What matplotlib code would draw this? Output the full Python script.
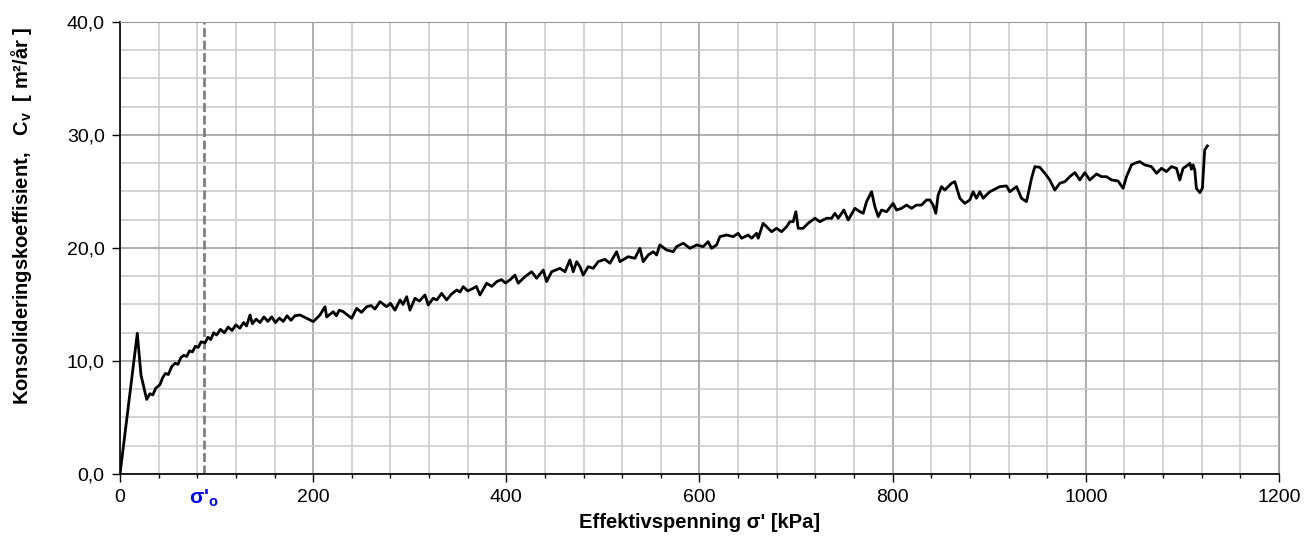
import numpy as np
import matplotlib.pyplot as plt
from matplotlib.ticker import MultipleLocator, FuncFormatter
from matplotlib import transforms

plt.rcParams['font.family'] = ['Liberation Sans', 'DejaVu Sans']
plt.rcParams['mathtext.default'] = 'regular'

SIGMA_0 = 87  # kPa, in-situ effective stress

# effective stress [kPa]
SIGMA = [
    0, 17.9, 21.7, 22.5, 27.6, 31, 34, 37, 41.4, 44, 47, 50, 53.5, 57, 60, 63, 66, 69, 72, 75,
    78, 81, 84, 88, 91, 94, 97, 100, 104, 108, 112, 116, 120, 124, 128, 131, 134.6, 137, 141,
    145, 149, 153, 157, 161, 165, 169, 173, 177, 181,
    186.3, 193.3, 200.1, 207, 212.2, 214, 220.8, 224, 227, 231.2, 235, 239.9, 245, 250, 255.4,
    260, 264, 269.2, 276.1, 280, 284.7, 289.9, 293, 296.8, 300.2, 305.4, 310, 315.7, 319.2,
    324.3, 328, 333, 338.2, 343, 348.6, 352, 355.4, 360, 365.7, 369, 372.7, 379.6, 385, 390,
    395, 399,
    403.7, 408.9, 412.3, 419.3, 426.2, 431.4, 438.2, 441.7, 446.9, 455.5, 460.7, 465.8, 469.3,
    472.8, 476.2, 479.6, 484.8, 490, 495.1, 502.1, 507.2, 514.2, 517.6, 526.2, 533.1, 538.3,
    541.7, 546.9, 552.1, 555.6, 559, 565.9, 572.8, 576.3, 583.2, 590.1, 597.1, 603.8, 609,
    612.5, 617.7,
    621.1, 628, 634.9, 640, 643.6, 650.4, 653.9, 659.1, 660.8, 665.9, 669.5, 674.6, 679.8, 685,
    690.2, 693.6, 697, 699.8, 702.2, 707.3, 712.5, 719.5, 724.6, 731.6, 736.8, 740.2, 743.6,
    749.5, 754, 760.9, 766.1, 769.5, 773, 778.2, 781.6, 785.1, 788.5, 793.7, 800.5, 804, 809.2,
    814.4, 819.5, 824.7, 829.9, 835.1,
    838.5, 841.9, 844.7, 847.1, 850.6, 854, 857.5, 861, 864.4, 869.6, 874.7, 879.9, 883.3,
    886.8, 890.3, 893.7, 900.6, 911, 917.9, 921.3, 928.3, 933.4, 938.6, 943.8, 947.2, 952.4,
    957.6, 962.7, 967.9, 973.1, 978.3, 983.4, 988.6, 993.8, 999, 1004.1, 1011.1, 1016.3,
    1021.4, 1026.6, 1033.4, 1038.6, 1042.1, 1047.3, 1050.7, 1055.9, 1061.1, 1068, 1073.2,
    1078.4, 1083.5, 1088.7, 1093.9, 1097.3, 1100.7, 1105.9, 1107.7, 1109.4, 1111.1, 1112.8,
    1114.5, 1118, 1120.7, 1123.1, 1125.9,
]

# consolidation coefficient [m2/year]
CV = [
    0, 12.45, 8.76, 8.47, 6.6, 7.1, 7.0, 7.6, 7.9, 8.5, 8.9, 8.8, 9.5, 9.8, 9.7, 10.3, 10.5,
    10.4, 10.9, 10.8, 11.3, 11.2, 11.7, 11.6, 12.1, 11.9, 12.5, 12.3, 12.8, 12.5, 13.0, 12.7,
    13.2, 12.9, 13.4, 13.1, 14.07, 13.3, 13.7, 13.4, 13.9, 13.5, 13.9, 13.4, 13.8, 13.5, 14.0,
    13.6, 14.0,
    14.07, 13.78, 13.48, 14.07, 14.8, 13.9, 14.36, 14.0, 14.5, 14.36, 14.1, 13.78, 14.66, 14.3,
    14.8, 14.9, 14.6, 15.25, 14.8, 15.1, 14.5, 15.4, 15.0, 15.69, 14.5, 15.55, 15.3, 15.84,
    14.96, 15.55, 15.4, 15.99, 15.4, 15.9, 16.28, 16.1, 16.58, 16.2, 16.43, 16.6, 15.84, 16.88,
    16.6, 17.02, 17.2, 16.9,
    17.17, 17.6, 16.88, 17.46, 17.9, 17.32, 18.05, 17.02, 17.9, 18.2, 17.9, 18.94, 17.9,
    18.79, 18.35, 17.6, 18.35, 18.2, 18.79, 19.0, 18.65, 19.67, 18.79, 19.23, 19.09, 19.97,
    18.79, 19.38, 19.67, 19.38, 20.27, 19.82, 19.67, 20.12, 20.42, 19.97, 20.27, 20.12, 20.56,
    19.97, 20.27,
    21.0, 21.15, 21.0, 21.3, 20.86, 21.15, 20.86, 21.3, 20.86, 22.19, 21.88, 21.44, 21.74, 21.44,
    21.88, 22.33, 22.33, 23.21, 21.74, 21.74, 22.19, 22.63, 22.33, 22.63, 22.63, 23.07, 22.63,
    23.36, 22.48, 23.51, 23.21, 23.07, 24.1, 24.98, 23.65, 22.77, 23.36, 23.21, 23.95, 23.36, 23.51,
    23.8, 23.51, 23.8, 23.8, 24.25,
    24.25, 23.8, 23.07, 24.69, 25.43, 25.13, 25.43, 25.73, 25.87, 24.4, 23.95, 24.25, 24.98,
    24.4, 24.98, 24.4, 24.98, 25.43, 25.49, 24.98, 25.43, 24.4, 24.1, 26.17, 27.2, 27.14,
    26.61, 26.02, 25.13, 25.73, 25.87, 26.31, 26.67, 26.02, 26.67, 26.02, 26.55, 26.31,
    26.31, 26.02, 25.93, 25.28, 26.31, 27.35, 27.5, 27.64, 27.35, 27.2, 26.61,
    27.05, 26.76, 27.2, 27.05, 26.02, 27.05, 27.35, 27.5, 26.97, 27.35, 26.9,
    25.28, 24.9, 25.28, 28.67, 29.03,
]

fig = plt.figure(figsize=(13.06, 5.44), dpi=100)
ax = fig.add_axes([0.0919, 0.1287, 0.8874, 0.8309])

ax.plot(SIGMA, CV, color='black', lw=2, solid_joinstyle='round', zorder=3)
ax.axvline(SIGMA_0, color='#808080', lw=2, ls=(0, (3.2, 1.3)), zorder=2)

ax.set_xlim(0, 1200)
ax.set_ylim(0, 40)
ax.xaxis.set_major_locator(MultipleLocator(200))
ax.xaxis.set_minor_locator(MultipleLocator(40))
ax.yaxis.set_major_locator(MultipleLocator(10))
ax.yaxis.set_minor_locator(MultipleLocator(2.5))
ax.yaxis.set_major_formatter(FuncFormatter(lambda v, p: ('%.1f' % v).replace('.', ',')))
ax.grid(which='major', color='#999999', lw=1.1)
ax.grid(which='minor', color='#c8c8c8', lw=1.1)
ax.set_axisbelow(True)

ax.tick_params(which='major', direction='out', length=6, width=1, labelsize=14, pad=5)
ax.tick_params(which='minor', direction='out', length=3, width=1)
ax.tick_params(axis='y', which='minor', length=0)
for s in ['top', 'right']:
    ax.spines[s].set_color('#999999')
for s in ['left', 'bottom']:
    ax.spines[s].set_color('black')
    ax.spines[s].set_linewidth(1.2)

ax.set_xlabel("Effektivspenning σ' [kPa]", fontsize=14.5, fontweight='bold', labelpad=5)
ax.set_ylabel("Konsolideringskoeffisient,   C$_{v}$  [ m²/år ]", fontsize=14.5,
              fontweight='bold', va='center')
ax.yaxis.set_label_coords(-0.0846, 0.572)

trans = transforms.blended_transform_factory(ax.transData, ax.transAxes)
ax.text(SIGMA_0, -0.03, "σ'$_{o}$", transform=trans, color='#0000ff', fontsize=15,
        fontweight='bold', ha='center', va='top')

fig.savefig('out.png', dpi=100)
